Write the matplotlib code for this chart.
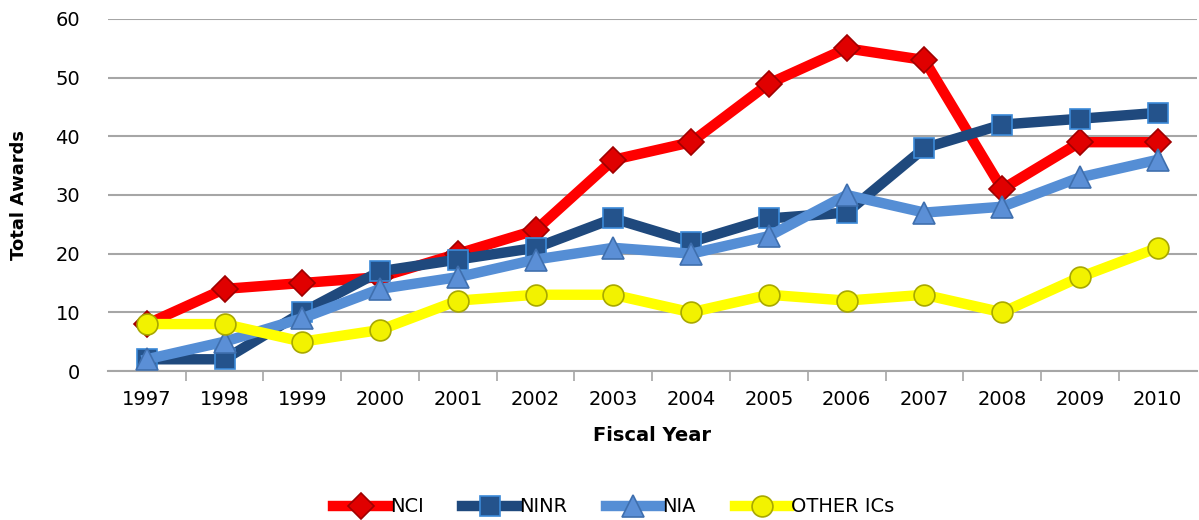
import matplotlib.pyplot as plt
from matplotlib.lines import Line2D

years = ['1997', '1998', '1999', '2000', '2001', '2002', '2003',
         '2004', '2005', '2006', '2007', '2008', '2009', '2010']
nci = [8, 14, 15, 16, 20, 24, 36, 39, 49, 55, 53, 31, 39, 39]
ninr = [2, 2, 10, 17, 19, 21, 26, 22, 26, 27, 38, 42, 43, 44]
nia = [2, 5, 9, 14, 16, 19, 21, 20, 23, 30, 27, 28, 33, 36]
other = [8, 8, 5, 7, 12, 13, 13, 10, 13, 12, 13, 10, 16, 21]

plt.rcParams['font.family'] = ['DejaVu Sans']

fig = plt.figure(figsize=(11.99, 5.2), dpi=100)
ax = fig.add_axes([0.09, 0.2865, 0.908, 0.677])

x = list(range(len(years)))
series = [
    ('NCI', nci, '#FF0000', 'D', '#E00000', '#A00000', 13),
    ('NINR', ninr, '#1F497D', 's', '#24538C', '#3C8AD8', 14),
    ('NIA', nia, '#558ED5', '^', '#5B8FD6', '#3F6FAE', 16),
    ('OTHER ICs', other, '#FFFF00', 'o', '#F2F200', '#A8A800', 15),
]

handles = []
for i, (name, vals, col, mk, face, edge, ms) in enumerate(series):
    ax.plot(x, vals, color=col, lw=7.5, solid_joinstyle='miter', zorder=2 + i)
    ax.plot(x, vals, ls='none', marker=mk, ms=ms, mfc=face, mec=edge,
            mew=1.2, zorder=2 + i)
    handles.append(Line2D([0], [0], color=col, lw=7.5, marker=mk, ms=ms,
                          mfc=face, mec=edge, mew=1.2))

ax.set_xlim(-0.5, len(years) - 0.5)
ax.set_ylim(0, 60)
ax.set_yticks(range(0, 61, 10))
ax.yaxis.grid(True, color='#A6A6A6', lw=1.5)
ax.set_axisbelow(True)

ax.set_xticks(x)
ax.set_xticklabels(years)
ax.set_xticks([i + 0.5 for i in range(len(years) - 1)], minor=True)
ax.tick_params(axis='x', which='major', length=0, pad=14, labelsize=14)
ax.tick_params(axis='x', which='minor', length=7, color='#A6A6A6', width=1.2)
ax.tick_params(axis='y', length=0, pad=20, labelsize=14)

for s in ['top', 'right', 'left']:
    ax.spines[s].set_visible(False)
ax.spines['bottom'].set_color('#A6A6A6')
ax.spines['bottom'].set_linewidth(1.5)

ax.set_xlabel('Fiscal Year', fontsize=14, fontweight='bold', labelpad=12)
ax.set_ylabel('Total Awards', fontsize=13, fontweight='bold', labelpad=20)

fig.legend(handles, [s[0] for s in series], loc='center',
           bbox_to_anchor=(0.512, 0.025), ncol=4, frameon=False,
           fontsize=14, handlelength=2.8, handletextpad=0.1,
           columnspacing=2.0)

fig.savefig('out.png', dpi=100)
